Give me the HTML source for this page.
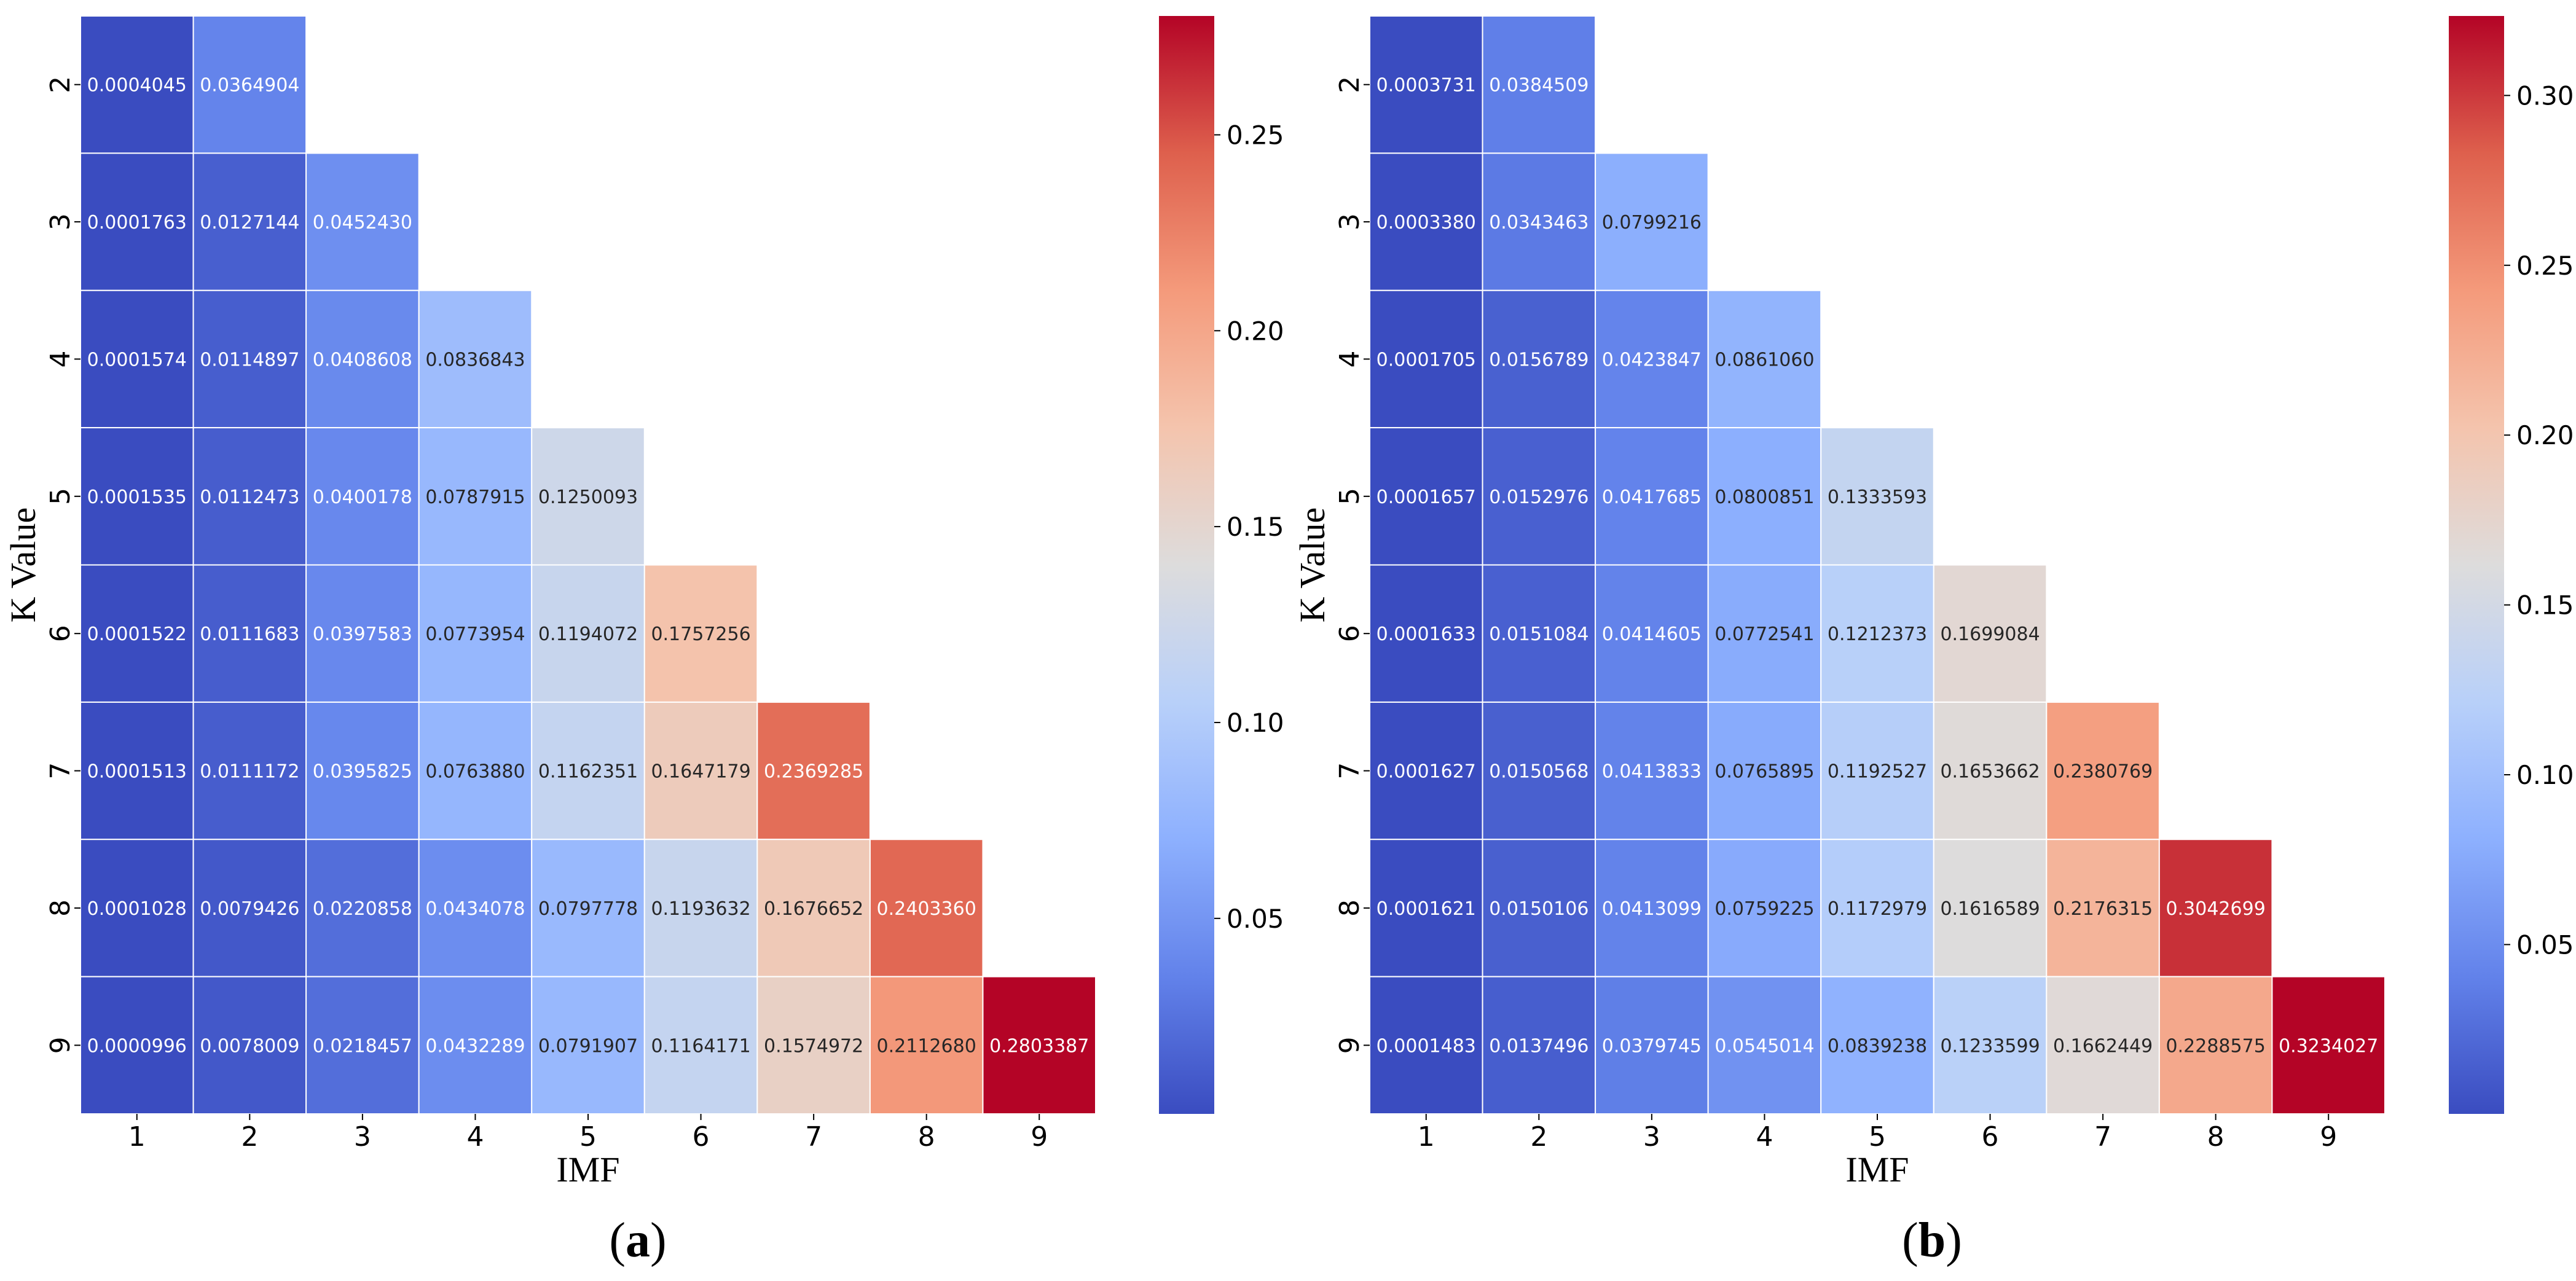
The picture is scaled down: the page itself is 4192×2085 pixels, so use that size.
<!DOCTYPE html>
<html><head><meta charset="utf-8">
<style>html,body{margin:0;padding:0;background:#fff}svg{display:block}</style>
</head><body>
<svg id="fig" xmlns="http://www.w3.org/2000/svg" width="4192" height="2085" viewBox="0 0 4192 2085"></svg>
<script>
const kValues = [2,3,4,5,6,7,8,9];
const imfLabels = [1,2,3,4,5,6,7,8,9];
const valuesA = [
 [0.0004045,0.0364904],
 [0.0001763,0.0127144,0.0452430],
 [0.0001574,0.0114897,0.0408608,0.0836843],
 [0.0001535,0.0112473,0.0400178,0.0787915,0.1250093],
 [0.0001522,0.0111683,0.0397583,0.0773954,0.1194072,0.1757256],
 [0.0001513,0.0111172,0.0395825,0.0763880,0.1162351,0.1647179,0.2369285],
 [0.0001028,0.0079426,0.0220858,0.0434078,0.0797778,0.1193632,0.1676652,0.2403360],
 [0.0000996,0.0078009,0.0218457,0.0432289,0.0791907,0.1164171,0.1574972,0.2112680,0.2803387]
];
const valuesB = [
 [0.0003731,0.0384509],
 [0.0003380,0.0343463,0.0799216],
 [0.0001705,0.0156789,0.0423847,0.0861060],
 [0.0001657,0.0152976,0.0417685,0.0800851,0.1333593],
 [0.0001633,0.0151084,0.0414605,0.0772541,0.1212373,0.1699084],
 [0.0001627,0.0150568,0.0413833,0.0765895,0.1192527,0.1653662,0.2380769],
 [0.0001621,0.0150106,0.0413099,0.0759225,0.1172979,0.1616589,0.2176315,0.3042699],
 [0.0001483,0.0137496,0.0379745,0.0545014,0.0839238,0.1233599,0.1662449,0.2288575,0.3234027]
];
const cbarTicksA = [0.05,0.10,0.15,0.20,0.25];
const cbarTicksB = [0.05,0.10,0.15,0.20,0.25,0.30];
const captions = ["a","b"];

const NS="http://www.w3.org/2000/svg";
const svg=document.getElementById('fig');
function mk(tag,attrs,parent){const e=document.createElementNS(NS,tag);for(const k in attrs)e.setAttribute(k,attrs[k]);(parent||svg).appendChild(e);return e;}

const cw=[[0,[58,76,192]],[0.125,[98,130,234]],[0.25,[141,176,254]],[0.375,[184,208,249]],[0.5,[221,220,220]],[0.625,[244,196,173]],[0.75,[244,154,123]],[0.875,[222,96,77]],[1,[180,4,38]]];
function coolwarm(t){t=Math.max(0,Math.min(1,t));for(let i=1;i<cw.length;i++){if(t<=cw[i][0]){const a=cw[i-1],b=cw[i];const f=(t-a[0])/(b[0]-a[0]);return a[1].map((v,j)=>Math.round(v+(b[1][j]-v)*f));}}return cw[cw.length-1][1];}
function lum(c){const l=c.map(v=>{v/=255;return v<=0.03928?v/12.92:Math.pow((v+0.055)/1.055,2.4)});return 0.2126*l[0]+0.7152*l[1]+0.0722*l[2];}

const TOP=26, BOT=1813, ROWH=(BOT-TOP)/8;
function panel(idx,x0,values,ticks,cbx){
  const g=mk('g',{});
  
  
  const W=1652, CW=W/9;
  let flat=[];values.forEach(r=>r.forEach(v=>flat.push(v)));
  const vmin=Math.min(...flat), vmax=Math.max(...flat);
  const xs=i=>x0+i*CW, ys=i=>TOP+i*ROWH;
  values.forEach((row,r)=>{
    row.forEach((v,c)=>{
      const col=coolwarm((v-vmin)/(vmax-vmin));
      const rect=mk('rect',{x:xs(c),y:ys(r),width:CW,height:ROWH,fill:`rgb(${col})`,stroke:'#fff','stroke-width':2},g);
      
      
      const t=mk('text',{x:xs(c)+CW/2,y:ys(r)+ROWH/2+11,'text-anchor':'middle','font-family':'DejaVu Sans, sans-serif','font-size':30,fill:lum(col)>0.408?'#262626':'#ffffff'},g);
      t.textContent=v.toFixed(7);
      
      
    });
  });
  kValues.forEach((k,r)=>{
    const cy=ys(r)+ROWH/2;
    mk('line',{x1:x0-10,x2:x0,y1:cy,y2:cy,stroke:'#000','stroke-width':2},g);
    const t=mk('text',{x:0,y:0,transform:`translate(${x0-18},${cy}) rotate(-90)`,'text-anchor':'middle','font-family':'DejaVu Sans, sans-serif','font-size':44,fill:'#000'},g);
    t.textContent=k;
    
    
  });
  imfLabels.forEach((m,c)=>{
    const cx=xs(c)+CW/2;
    mk('line',{x1:cx,x2:cx,y1:BOT,y2:BOT+10,stroke:'#000','stroke-width':2},g);
    const t=mk('text',{x:cx,y:BOT+52,'text-anchor':'middle','font-family':'DejaVu Sans, sans-serif','font-size':44,fill:'#000'},g);
    t.textContent=m;
    
    
  });
  const yl=mk('text',{x:0,y:0,transform:`translate(${x0-74},${(TOP+BOT)/2}) rotate(-90)`,'text-anchor':'middle','font-family':'Liberation Serif, serif','font-size':58,fill:'#000'},g);
  yl.textContent='K Value';
  
  
  const xl=mk('text',{x:x0+W/2,y:BOT+110,'text-anchor':'middle','font-family':'Liberation Serif, serif','font-size':58,fill:'#000'},g);
  xl.textContent='IMF';
  
  
  const gid='cg'+idx;
  const defs=mk('defs',{},g);
  const lg=mk('linearGradient',{id:gid,x1:0,y1:1,x2:0,y2:0},defs);
  for(let i=0;i<=16;i++){const c=coolwarm(i/16);mk('stop',{offset:i/16,'stop-color':`rgb(${c})`},lg);}
  const cb=mk('rect',{x:cbx,y:TOP,width:90,height:BOT-TOP,fill:`url(#${gid})`},g);
  
  
  const cy=v=>BOT-(v-vmin)/(vmax-vmin)*(BOT-TOP);
  ticks.forEach(v=>{
    const y=cy(v);
    mk('line',{x1:cbx+90,x2:cbx+100,y1:y,y2:y,stroke:'#000','stroke-width':2},g);
    const t=mk('text',{x:cbx+110,y:y+15,'font-family':'DejaVu Sans, sans-serif','font-size':42,fill:'#000'},g);
    t.textContent=v.toFixed(2);
    
    
  });
  const cap=mk('text',{x:x0+(idx===0?907:915),y:2045,'text-anchor':'middle','font-family':'Liberation Serif, serif','font-size':80,fill:'#000'},g);
  cap.innerHTML='(<tspan font-weight="bold">'+captions[idx]+'</tspan>)';
  
  
}
panel(0,131,valuesA,cbarTicksA,1886);
panel(1,2229,valuesB,cbarTicksB,3985);
</script>
</body></html>
